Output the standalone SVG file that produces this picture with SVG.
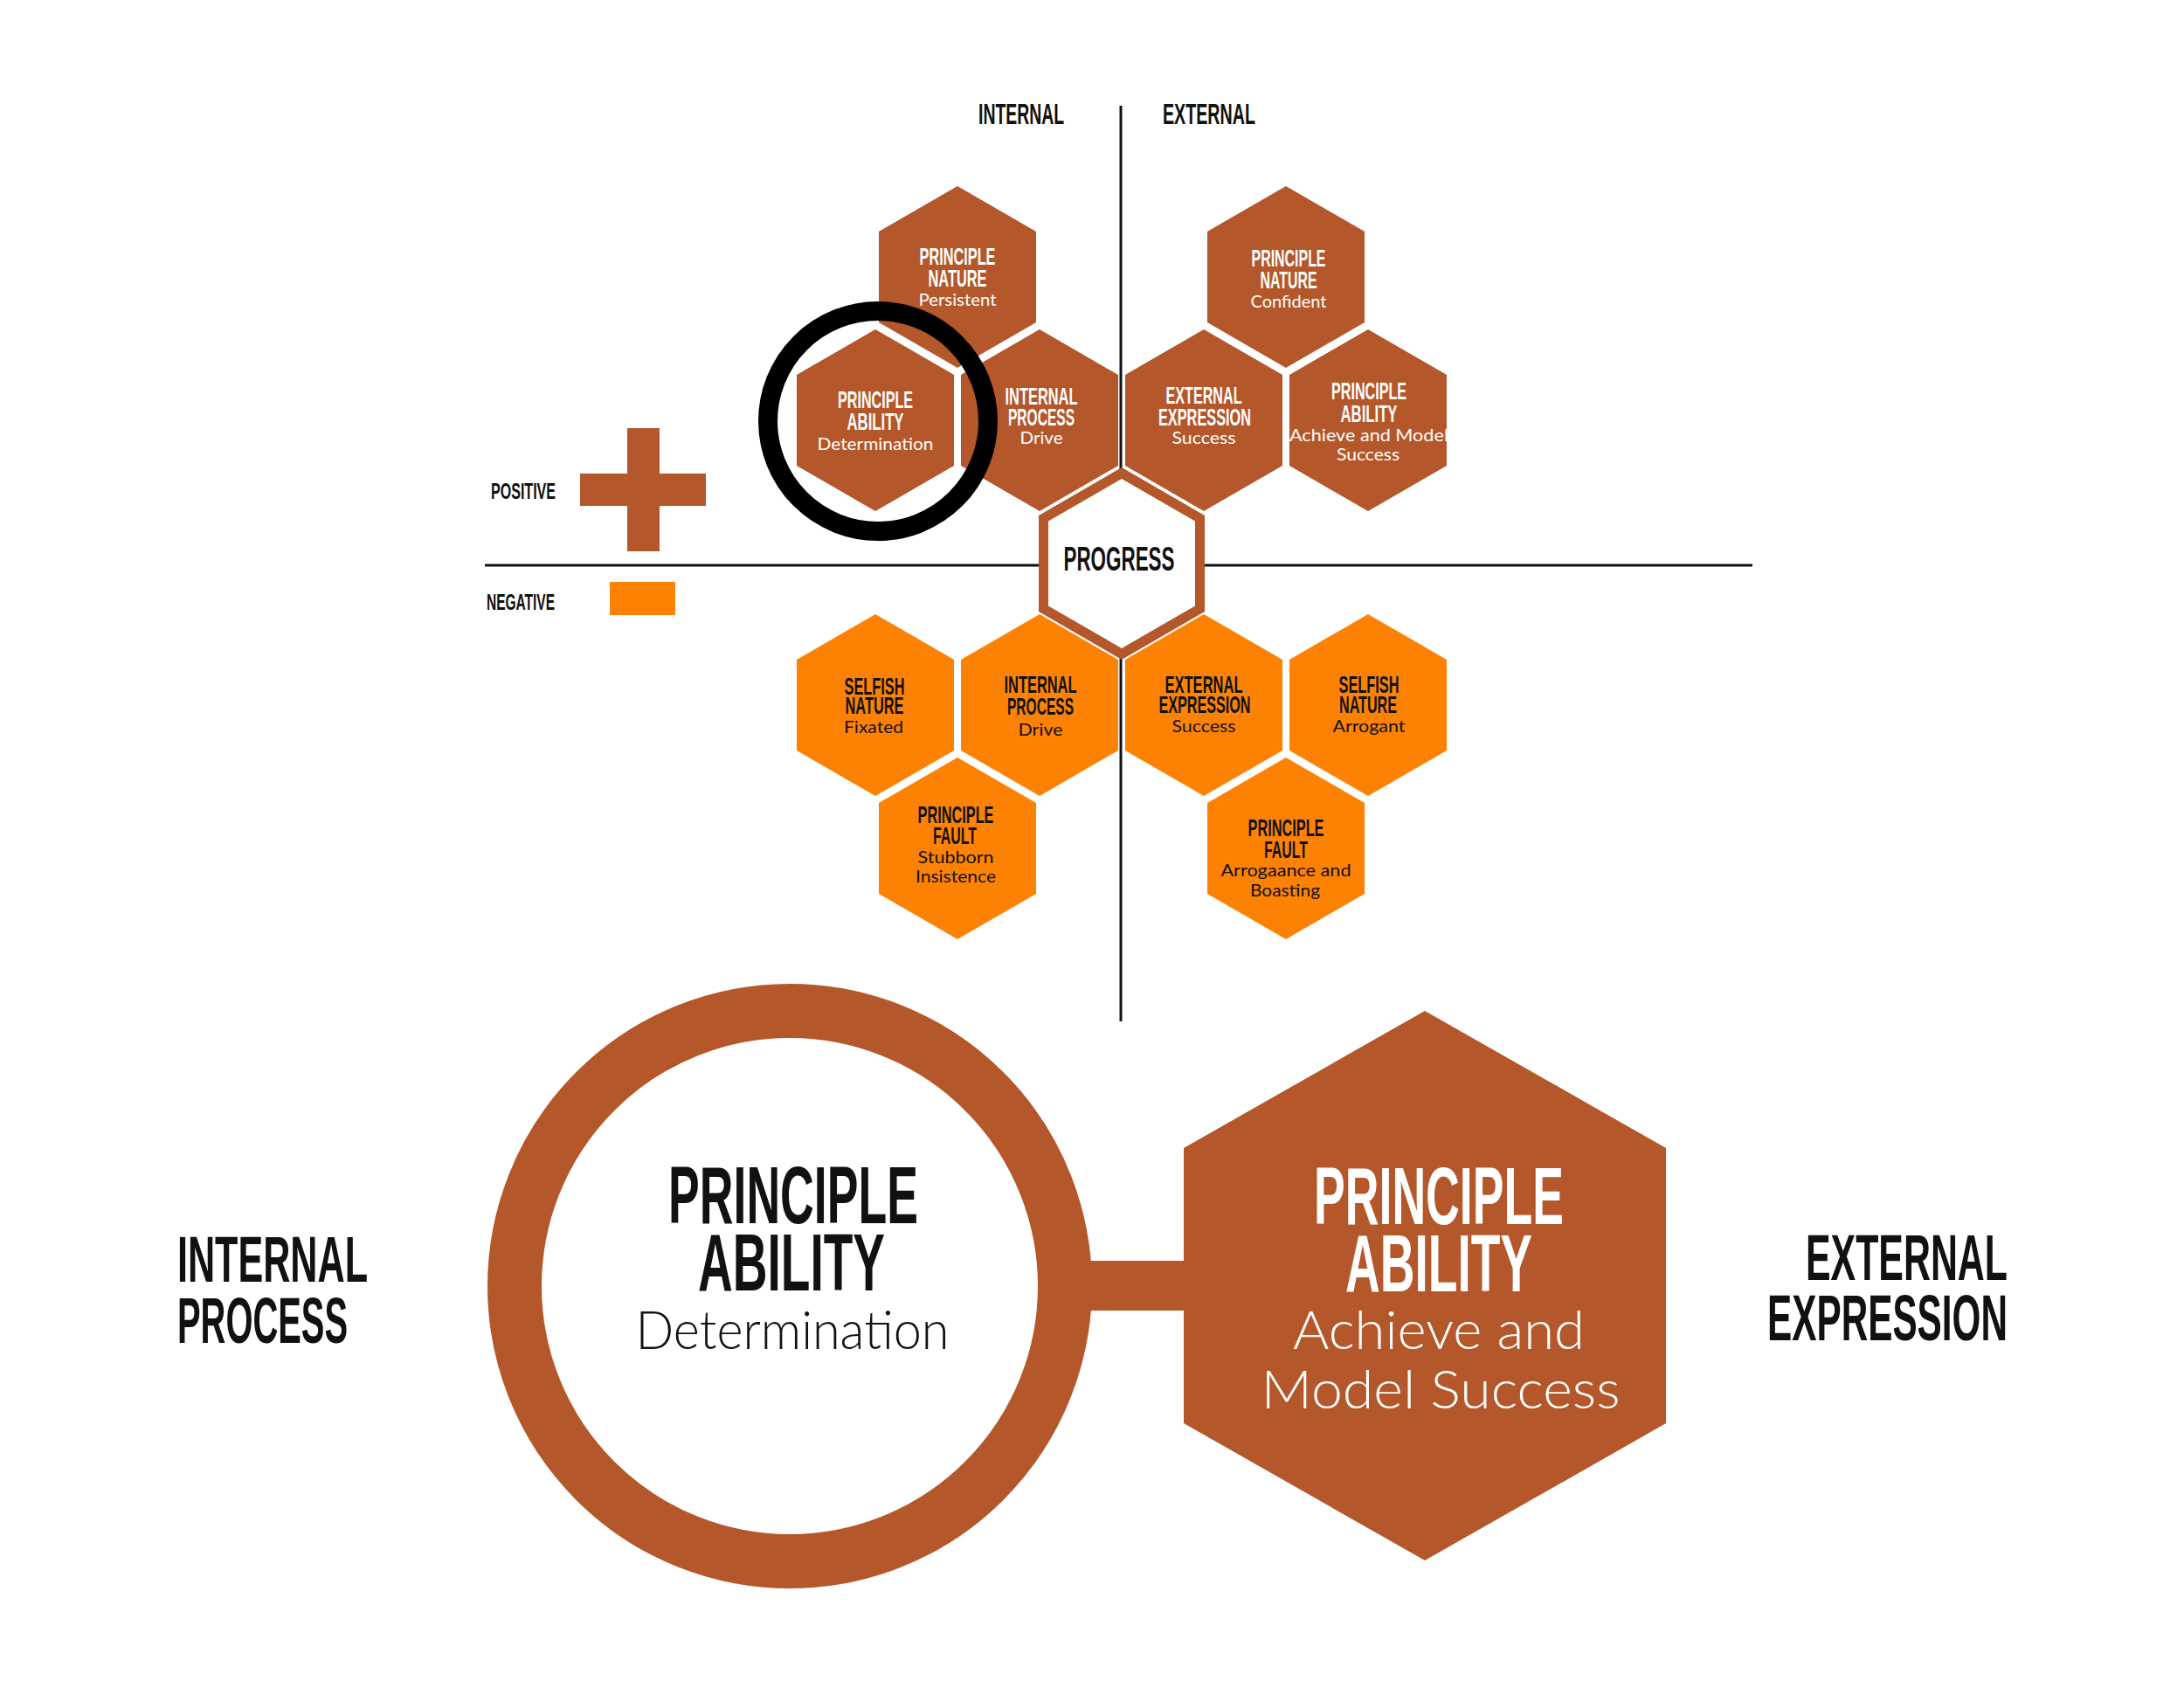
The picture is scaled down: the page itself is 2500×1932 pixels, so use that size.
<svg xmlns="http://www.w3.org/2000/svg" width="2500" height="1932" viewBox="0 0 2500 1932">
<style>
.bg{fill:#ffffff}
.hb{fill:#B4572A}
.ho{fill:#FD8204}
.t{font-family:"Liberation Sans Narrow","Liberation Sans","DejaVu Sans Condensed",sans-serif;font-weight:bold;text-anchor:middle}
.s{font-family:Lato,"Open Sans","Liberation Sans",sans-serif;font-weight:300;text-anchor:middle}
.w{fill:#ffffff}
.k{fill:#111111}
.h1{font-size:28px}
.s1{font-size:20px;font-weight:normal}
.axis{stroke:#111111;stroke-width:3;fill:none}
</style>
<defs>
<polygon id="hex" points="0,-104 90,-52 90,52 0,104 -90,52 -90,-52"/>
</defs>
<rect class="bg" x="0" y="0" width="2500" height="1932"/>
<g id="connectors">
<line class="axis" x1="1283" y1="121" x2="1283" y2="1169"/>
<line class="axis" x1="555" y1="647" x2="2006" y2="647"/>
<rect class="hb" x="1245" y="1443" width="115" height="57"/>
</g>
<g id="labels">
<text class="t k" x="1169" y="142" font-size="33" textLength="98" lengthAdjust="spacingAndGlyphs">INTERNAL</text>
<text class="t k" x="1384" y="142" font-size="33" textLength="106" lengthAdjust="spacingAndGlyphs">EXTERNAL</text>
<text class="t k" x="562" y="571" font-size="26" style="text-anchor:start" textLength="74" lengthAdjust="spacingAndGlyphs">POSITIVE</text>
<text class="t k" x="557" y="698" font-size="26" style="text-anchor:start" textLength="78" lengthAdjust="spacingAndGlyphs">NEGATIVE</text>
</g>
<g id="legend-positive">
<rect class="hb" x="718" y="490" width="37" height="141"/>
<rect class="hb" x="664" y="542" width="144" height="37"/>
</g>
<g id="legend-negative">
<rect class="ho" x="698" y="666" width="75" height="38"/>
</g>
<g id="pn-int">
<use href="#hex" x="1096" y="317" class="hb"/>
<text class="t w h1" x="1096" y="303" textLength="87" lengthAdjust="spacingAndGlyphs">PRINCIPLE</text>
<text class="t w h1" x="1096" y="328" textLength="67" lengthAdjust="spacingAndGlyphs">NATURE</text>
<text class="s w s1" x="1096" y="350" textLength="89" lengthAdjust="spacingAndGlyphs">Persistent</text>
</g>
<g id="pa-int">
<use href="#hex" x="1002" y="481" class="hb"/>
<text class="t w h1" x="1002" y="467" textLength="86" lengthAdjust="spacingAndGlyphs">PRINCIPLE</text>
<text class="t w h1" x="1002" y="492" textLength="65" lengthAdjust="spacingAndGlyphs">ABILITY</text>
<text class="s w s1" x="1002" y="515" textLength="133" lengthAdjust="spacingAndGlyphs">Determination</text>
</g>
<g id="ip-up">
<use href="#hex" x="1190" y="481" class="hb"/>
<text class="t w h1" x="1192" y="463" textLength="83" lengthAdjust="spacingAndGlyphs">INTERNAL</text>
<text class="t w h1" x="1192" y="487" textLength="76" lengthAdjust="spacingAndGlyphs">PROCESS</text>
<text class="s w s1" x="1192" y="508" textLength="49" lengthAdjust="spacingAndGlyphs">Drive</text>
</g>
<g id="ee-up">
<use href="#hex" x="1378" y="481" class="hb"/>
<text class="t w h1" x="1378" y="462" textLength="87" lengthAdjust="spacingAndGlyphs">EXTERNAL</text>
<text class="t w h1" x="1379" y="487" textLength="106" lengthAdjust="spacingAndGlyphs">EXPRESSION</text>
<text class="s w s1" x="1378" y="508" textLength="73" lengthAdjust="spacingAndGlyphs">Success</text>
</g>
<g id="pa-ext">
<use href="#hex" x="1566" y="481" class="hb"/>
<text class="t w h1" x="1567" y="457" textLength="86" lengthAdjust="spacingAndGlyphs">PRINCIPLE</text>
<text class="t w h1" x="1567" y="483" textLength="65" lengthAdjust="spacingAndGlyphs">ABILITY</text>
<text class="s w s1" x="1567" y="505" textLength="182" lengthAdjust="spacingAndGlyphs">Achieve and Model</text>
<text class="s w s1" x="1566" y="527" textLength="72" lengthAdjust="spacingAndGlyphs">Success</text>
</g>
<g id="pn-ext">
<use href="#hex" x="1472" y="317" class="hb"/>
<text class="t w h1" x="1475" y="305" textLength="85" lengthAdjust="spacingAndGlyphs">PRINCIPLE</text>
<text class="t w h1" x="1475" y="330" textLength="65" lengthAdjust="spacingAndGlyphs">NATURE</text>
<text class="s w s1" x="1475" y="352" textLength="87" lengthAdjust="spacingAndGlyphs">Confident</text>
</g>
<g id="progress">
<polygon class="hb" points="1284,535 1379,590 1379,700 1284,755 1189,700 1189,590"/>
<polygon class="bg" points="1284,548 1368,596.5 1368,693.5 1284,742 1200,693.5 1200,596.5"/>
<text class="t k" x="1281" y="653" font-size="39" textLength="127" lengthAdjust="spacingAndGlyphs">PROGRESS</text>
</g>
<g id="sn-int">
<use href="#hex" x="1002" y="807" class="ho"/>
<text class="t k h1" x="1001" y="795" textLength="69" lengthAdjust="spacingAndGlyphs">SELFISH</text>
<text class="t k h1" x="1001" y="817" textLength="67" lengthAdjust="spacingAndGlyphs">NATURE</text>
<text class="s k s1" x="1000" y="839" textLength="68" lengthAdjust="spacingAndGlyphs">Fixated</text>
</g>
<g id="ip-low">
<use href="#hex" x="1190" y="807" class="ho"/>
<text class="t k h1" x="1191" y="793" textLength="83" lengthAdjust="spacingAndGlyphs">INTERNAL</text>
<text class="t k h1" x="1191" y="818" textLength="76" lengthAdjust="spacingAndGlyphs">PROCESS</text>
<text class="s k s1" x="1191" y="842" textLength="51" lengthAdjust="spacingAndGlyphs">Drive</text>
</g>
<g id="ee-low">
<use href="#hex" x="1378" y="807" class="ho"/>
<text class="t k h1" x="1378" y="793" textLength="89" lengthAdjust="spacingAndGlyphs">EXTERNAL</text>
<text class="t k h1" x="1379" y="816" textLength="105" lengthAdjust="spacingAndGlyphs">EXPRESSION</text>
<text class="s k s1" x="1378" y="838" textLength="73" lengthAdjust="spacingAndGlyphs">Success</text>
</g>
<g id="sn-ext">
<use href="#hex" x="1566" y="807" class="ho"/>
<text class="t k h1" x="1567" y="793" textLength="69" lengthAdjust="spacingAndGlyphs">SELFISH</text>
<text class="t k h1" x="1566" y="816" textLength="66" lengthAdjust="spacingAndGlyphs">NATURE</text>
<text class="s k s1" x="1567" y="838" textLength="83" lengthAdjust="spacingAndGlyphs">Arrogant</text>
</g>
<g id="pf-int">
<use href="#hex" x="1096" y="971" class="ho"/>
<text class="t k h1" x="1094" y="942" textLength="87" lengthAdjust="spacingAndGlyphs">PRINCIPLE</text>
<text class="t k h1" x="1093" y="966" textLength="50" lengthAdjust="spacingAndGlyphs">FAULT</text>
<text class="s k s1" x="1094" y="988" textLength="87" lengthAdjust="spacingAndGlyphs">Stubborn</text>
<text class="s k s1" x="1094" y="1010" textLength="92" lengthAdjust="spacingAndGlyphs">Insistence</text>
</g>
<g id="pf-ext">
<use href="#hex" x="1472" y="971" class="ho"/>
<text class="t k h1" x="1472" y="957" textLength="87" lengthAdjust="spacingAndGlyphs">PRINCIPLE</text>
<text class="t k h1" x="1472" y="982" textLength="50" lengthAdjust="spacingAndGlyphs">FAULT</text>
<text class="s k s1" x="1472" y="1003" textLength="149" lengthAdjust="spacingAndGlyphs">Arrogaance and</text>
<text class="s k s1" x="1471" y="1026" textLength="80" lengthAdjust="spacingAndGlyphs">Boasting</text>
</g>
<g id="highlight-ring">
<circle cx="1005" cy="482" r="126" fill="none" stroke="#000000" stroke-width="22"/>
</g>
<g id="big-ring">
<circle cx="904" cy="1472" r="315" fill="#ffffff" stroke="#B4572A" stroke-width="62"/>
<text class="t k" x="908" y="1400" font-size="93" textLength="286" lengthAdjust="spacingAndGlyphs">PRINCIPLE</text>
<text class="t k" x="906" y="1477" font-size="93" textLength="214" lengthAdjust="spacingAndGlyphs">ABILITY</text>
<text class="s k" x="907" y="1544" font-size="62" textLength="359" lengthAdjust="spacingAndGlyphs">Determination</text>
</g>
<g id="big-hex">
<polygon class="hb" points="1631,1157 1907,1314 1907,1629 1631,1786 1355,1629 1355,1314"/>
<text class="t w" x="1647" y="1401" font-size="93" textLength="286" lengthAdjust="spacingAndGlyphs">PRINCIPLE</text>
<text class="t w" x="1647" y="1478" font-size="93" textLength="214" lengthAdjust="spacingAndGlyphs">ABILITY</text>
<text class="s w" x="1647" y="1544" font-size="62" textLength="334" lengthAdjust="spacingAndGlyphs">Achieve and</text>
<text class="s w" x="1649" y="1612" font-size="62" textLength="411" lengthAdjust="spacingAndGlyphs">Model Success</text>
</g>
<g id="side-internal">
<text class="t k" x="203" y="1467" font-size="74" style="text-anchor:start" textLength="218" lengthAdjust="spacingAndGlyphs">INTERNAL</text>
<text class="t k" x="203" y="1537" font-size="74" style="text-anchor:start" textLength="195" lengthAdjust="spacingAndGlyphs">PROCESS</text>
</g>
<g id="side-external">
<text class="t k" x="2298" y="1465" font-size="74" style="text-anchor:end" textLength="231" lengthAdjust="spacingAndGlyphs">EXTERNAL</text>
<text class="t k" x="2298" y="1534" font-size="74" style="text-anchor:end" textLength="275" lengthAdjust="spacingAndGlyphs">EXPRESSION</text>
</g>
</svg>
